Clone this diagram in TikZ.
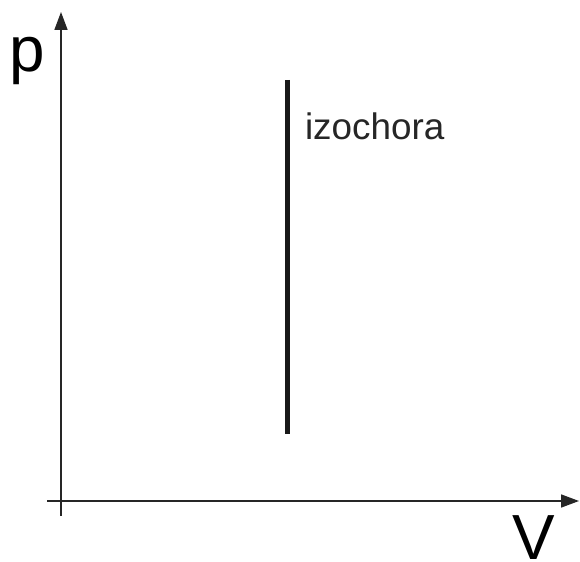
\documentclass[tikz,border=0pt]{standalone}
\usepackage{fontspec}
\setmainfont{Liberation Sans}
\usetikzlibrary{positioning, arrows.meta}
\tikzset{
  every node/.style={inner sep=0pt, outer sep=0pt},
  axis/.style={-{Triangle[length=18bp, width=13bp]}, line width=1.6bp, black!85},
  iso/.style={line width=5bp, black!90},
  axlabel/.style={font=\fontsize{64}{70}\selectfont, anchor=base west},
  isolabel/.style={font=\fontsize{37}{42}\selectfont, anchor=base west, text=black!85},
}

\begin{document}
\begin{tikzpicture}[x=1bp, y=-1bp]
  \useasboundingbox (0,0) rectangle (580,562);
  % axes
  \coordinate (ybot) at (61,516);
  \coordinate (ytop) at (61,12);
  \coordinate (xleft) at (47,501);
  \coordinate (xright) at (579,501);
  \draw[axis] (ybot) -- (ytop);
  \draw[axis] (xleft) -- (xright);
  \node[axlabel] (plab) at (9,72) {p};
  \node[axlabel] (vlab) at (512,559) {V};
  % the isochore
  \coordinate (itop) at (287,80);
  \coordinate (ibot) at (287,434);
  \draw[iso] (itop) -- (ibot);
  \node[isolabel] (ilab) at (305,140) {izochora};
\end{tikzpicture}
\end{document}
